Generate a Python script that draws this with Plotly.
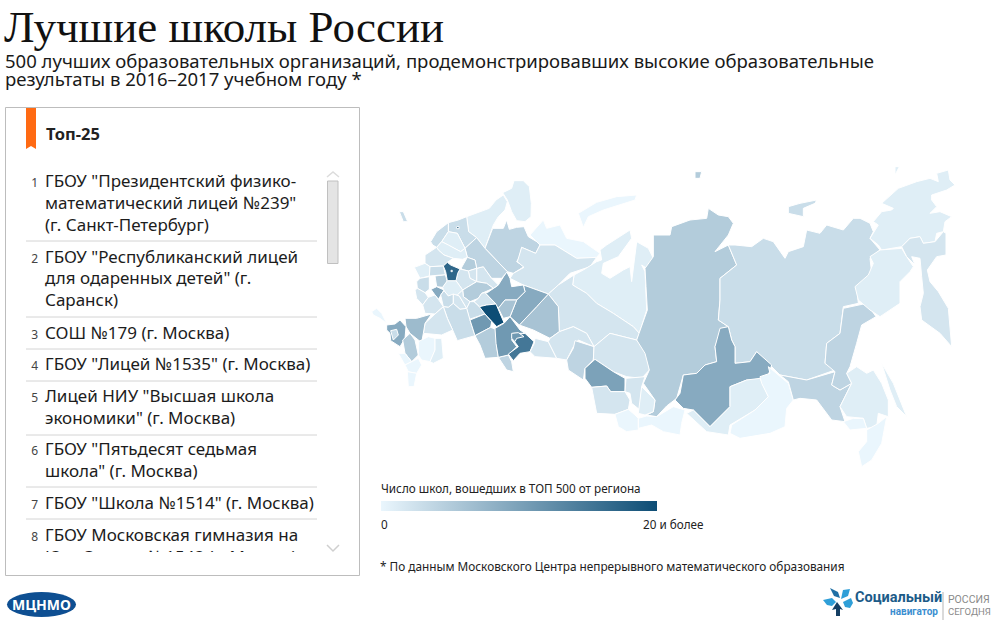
import plotly.graph_objects as go
from plotly.colors import sample_colorscale

COLOR_LOW = "#eaf6fd"
COLOR_HIGH = "#0d4d75"
MAX_SCHOOLS = 20

TITLE = "Лучшие школы России"
SUBTITLE = [
    "500 лучших образовательных организаций, продемонстрировавших высокие образовательные",
    "результаты в 2016–2017 учебном году *",
]
LEGEND_TITLE = "Число школ, вошедших в ТОП 500 от региона"
FOOTNOTE = "* По данным Московского Центра непрерывного математического образования"

LIST_NUMBERS = ["1", "2", "3", "4", "5", "6", "7", "8"]
LIST_LINES = [
    ['ГБОУ "Президентский физико-', 'математический лицей №239"', "(г. Санкт-Петербург)"],
    ['ГБОУ "Республиканский лицей', 'для одаренных детей" (г.', "Саранск)"],
    ["СОШ №179 (г. Москва)"],
    ['ГБОУ "Лицей №1535" (г. Москва)'],
    ['Лицей НИУ "Высшая школа', 'экономики" (г. Москва)'],
    ['ГБОУ "Пятьдесят седьмая', 'школа" (г. Москва)'],
    ['ГБОУ "Школа №1514" (г. Москва)'],
    ["ГБОУ Московская гимназия на", "Юго-Западе №1543 (г. Москва)"],
]
LIST_Y = [[183, 205, 227], [259, 280, 302], [335], [366], [398, 420], [451, 473], [505], [537, 559]]
LIST_RULES = [241, 317, 349, 381, 435, 487, 519]

# контуры снимались с увеличенных кусков картинки, у каждого куска свой сдвиг
FRAMES = {"W": (370, 170), "E": (640, 170), "F": (840, 150)}

REGION_NAMES = [
    "Мурманская обл.", "Карелия", "Ленинградская обл.", "Псковская обл.", "Новгородская обл.",
    "Калининградская обл.", "Архангельская обл.", "Ненецкий АО", "Новая Земля", "Коми",
    "Ямало-Ненецкий АО", "Ханты-Мансийский АО", "Свердловская обл.", "Пермский край", "Кировская обл.",
    "Удмуртия", "Костромская обл.", "Вологодская обл.", "Тверская обл.", "Смоленская обл.",
    "Ярославская обл.", "Ивановская обл.", "Владимирская обл.", "Нижегородская обл.", "Брянская обл.",
    "Калужская обл.", "Псковская зап.", "Курская обл.", "Тульская обл.", "Орловская обл.",
    "Белгородская обл.", "Липецкая обл.", "Тамбовская обл.", "Рязанская обл.", "Воронежская обл.",
    "Чувашия", "Пензенская обл.", "Саратовская обл.", "Волгоградская обл.", "Ростовская обл.",
    "Самарская обл.", "Татарстан", "Оренбургская обл. (запад)", "Оренбургская обл. (восток)", "Башкортостан",
    "Челябинская обл.", "Магнитогорск", "Курганская обл.", "Тюменская обл.", "Омская обл.",
    "Томская обл.", "Новосибирская обл.", "Кемеровская обл.", "Красноярский край", "Хакасия",
    "Алтайский край", "Республика Алтай", "Тува", "Северная Земля", "Якутия",
    "Новосибирские о-ва", "Иркутская обл.", "Бурятия", "Забайкальский край", "Амурская обл.",
    "Хабаровский край", "Приамурье", "Еврейская АО", "Приморский край", "Сахалин",
    "Чукотка", "о. Врангеля", "Магаданская обл.", "Камчатка", "Крым",
    "Краснодарский край", "Адыгея", "Ставрополье", "Калмыкия", "Астраханская обл.",
    "Северная Осетия", "Чечня", "Дагестан", "Московская обл.", "Москва",
    "Санкт-Петербург",
]
REGION_VALUES = [
    1, 1, 3, 3, 1,
    3, 4, 0, 0, 2,
    1, 2, 6, 9, 9,
    6, 2, 4, 1, 2,
    5, 2, 2, 5, 1,
    5, 3, 3, 1, 9,
    2, 3, 2, 2, 2,
    2, 3, 3, 2, 7,
    11, 20, 5, 4, 11,
    15, 11, 2, 2, 4,
    2, 10, 2, 5, 1,
    2, 0, 0, 5, 3,
    3, 9, 1, 0, 4,
    4, 1, 0, 0, 1,
    1, 1, 1, 2, 0,
    9, 3, 5, 0, 1,
    0, 0, 0, 17, 20,
    20,
]
REGION_OUTLINES = [
    ("W", [(398, 68), (425, 55), (432, 32), (460, 32), (478, 50), (484, 100), (483, 140), (465, 155), (440, 152), (425, 125), (412, 90)]),
    ("W", [(358, 115), (378, 90), (400, 75), (412, 95), (405, 120), (385, 140), (370, 165), (345, 235), (320, 203), (296, 185), (290, 140)]),
    ("W", [(235, 158), (265, 150), (290, 140), (296, 185), (320, 203), (285, 235), (262, 190), (235, 185)]),
    ("W", [(182, 215), (200, 185), (235, 158), (235, 185), (215, 215), (200, 232), (188, 225)]),
    ("W", [(215, 215), (235, 185), (262, 190), (285, 235), (272, 245), (235, 225)]),
    ("W", [(88, 125), (100, 125), (113, 155), (100, 155)]),
    ("W", [(345, 235), (368, 175), (400, 175), (410, 150), (418, 178), (440, 172), (462, 170), (475, 200), (500, 215), (510, 225), (497, 250), (455, 232), (448, 262), (440, 275), (462, 290), (430, 310), (412, 305), (380, 270)]),
    ("W", [(480, 195), (520, 150), (530, 175), (570, 165), (590, 205), (640, 215), (690, 250), (680, 262), (620, 265), (555, 225), (510, 225), (500, 215)]),
    ("W", [(625, 130), (680, 97), (740, 80), (800, 75), (795, 90), (700, 120), (655, 140), (640, 172)]),
    ("W", [(510, 225), (555, 225), (620, 265), (680, 262), (660, 290), (600, 310), (565, 345), (535, 372), (460, 345), (420, 325), (430, 310), (462, 292), (442, 275), (455, 232), (497, 250)]),
    ("W", [(612, 315), (640, 300), (680, 275), (695, 270), (690, 240), (710, 225), (780, 180), (785, 205), (745, 260), (700, 280), (695, 310), (720, 325), (760, 300), (780, 290), (785, 335), (800, 215), (835, 235), (850, 265), (830, 295), (815, 285), (825, 305), (830, 420), (808, 490), (790, 470), (730, 430), (680, 400), (650, 370), (608, 345)]),
    ("W", [(565, 345), (612, 315), (608, 345), (650, 370), (680, 400), (730, 430), (790, 470), (808, 490), (800, 510), (720, 490), (672, 530), (650, 490), (610, 470), (568, 485), (565, 410), (535, 372)]),
    ("W", [(535, 372), (565, 410), (568, 485), (540, 505), (490, 480), (448, 465), (500, 410)]),
    ("W", [(460, 345), (535, 372), (500, 410), (448, 465), (420, 440), (440, 390), (465, 365)]),
    ("W", [(352, 368), (370, 355), (385, 345), (410, 305), (420, 325), (425, 350), (460, 345), (465, 365), (440, 390), (405, 390), (385, 415), (370, 395), (345, 368)]),
    ("W", [(385, 415), (405, 390), (440, 390), (420, 440), (400, 445)]),
    ("W", [(320, 295), (340, 290), (365, 325), (385, 345), (370, 355), (350, 340), (320, 335)]),
    ("W", [(285, 235), (320, 203), (345, 235), (380, 270), (412, 305), (395, 325), (365, 325), (340, 290), (320, 295), (315, 270), (292, 262)]),
    ("W", [(200, 232), (215, 215), (235, 225), (272, 245), (285, 235), (292, 262), (278, 268), (250, 265), (222, 255), (205, 240)]),
    ("W", [(165, 255), (200, 232), (205, 240), (222, 255), (250, 265), (232, 277), (220, 288), (180, 290), (165, 280)]),
    ("W", [(275, 292), (292, 262), (315, 270), (320, 295), (295, 303), (275, 298)]),
    ("W", [(295, 303), (320, 295), (320, 335), (300, 325)]),
    ("W", [(270, 297), (295, 303), (300, 325), (320, 335), (278, 360), (258, 332), (263, 310)]),
    ("W", [(278, 360), (320, 335), (350, 340), (370, 355), (335, 370), (325, 385), (300, 395), (280, 380)]),
    ("W", [(133, 292), (165, 280), (180, 290), (178, 318), (150, 325)]),
    ("W", [(195, 318), (226, 314), (232, 335), (218, 352), (200, 350)]),
    ("W", [(180, 290), (220, 288), (226, 314), (195, 318), (178, 318)]),
    ("W", [(140, 335), (150, 325), (178, 320), (178, 358), (165, 368), (142, 355)]),
    ("W", [(218, 352), (232, 332), (258, 332), (278, 360), (262, 375), (235, 378), (222, 362)]),
    ("W", [(183, 358), (200, 350), (222, 360), (212, 375), (205, 388), (195, 375)]),
    ("W", [(135, 360), (142, 355), (165, 368), (175, 382), (158, 405), (140, 385)]),
    ("W", [(212, 375), (222, 362), (235, 378), (250, 372), (250, 400), (235, 412), (220, 410)]),
    ("W", [(250, 372), (268, 378), (290, 415), (270, 418), (250, 400)]),
    ("W", [(262, 375), (278, 360), (280, 380), (300, 395), (290, 415), (268, 378)]),
    ("W", [(175, 382), (195, 375), (205, 388), (220, 410), (195, 432), (165, 430), (158, 405)]),
    ("W", [(325, 385), (335, 370), (345, 368), (370, 395), (378, 402), (350, 405), (328, 410), (312, 395)]),
    ("W", [(290, 415), (300, 395), (312, 395), (328, 410), (345, 432), (320, 440), (298, 448)]),
    ("W", [(220, 410), (235, 412), (250, 400), (270, 418), (290, 415), (298, 448), (300, 450), (315, 497), (262, 512), (248, 480), (232, 445)]),
    ("W", [(195, 432), (220, 410), (232, 445), (248, 480), (215, 495), (160, 490), (165, 460)]),
    ("W", [(105, 445), (140, 445), (185, 432), (165, 460), (160, 490), (155, 518), (120, 490), (108, 470)]),
    ("W", [(300, 450), (345, 432), (365, 455), (362, 472), (315, 497)]),
    ("W", [(328, 410), (350, 405), (378, 402), (395, 440), (402, 458), (380, 470), (365, 455), (345, 432)]),
    ("W", [(315, 497), (362, 472), (378, 478), (380, 530), (385, 562), (345, 565), (330, 525)]),
    ("W", [(385, 562), (415, 555), (425, 575), (430, 605), (410, 600), (395, 575)]),
    ("W", [(375, 475), (402, 460), (420, 440), (450, 480), (465, 490), (430, 490), (425, 510), (440, 530), (415, 555), (385, 562), (378, 520)]),
    ("W", [(430, 495), (465, 490), (492, 515), (480, 545), (450, 550), (430, 572), (415, 552), (445, 530), (430, 510)]),
    ("W", [(425, 490), (445, 488), (462, 500), (440, 505), (435, 515), (425, 505)]),
    ("W", [(495, 505), (535, 515), (560, 565), (495, 560), (480, 545), (493, 520)]),
    ("W", [(535, 515), (540, 505), (568, 485), (610, 470), (650, 490), (672, 530), (625, 510), (610, 530), (590, 570), (560, 565)]),
    ("W", [(615, 512), (672, 530), (670, 570), (645, 595), (640, 630), (595, 600), (590, 570), (610, 535)]),
    ("W", [(672, 530), (720, 490), (800, 510), (830, 545), (838, 600), (815, 625), (770, 620), (730, 605), (675, 568), (670, 570)]),
    ("W", [(675, 568), (730, 605), (765, 625), (765, 665), (722, 665), (710, 648), (665, 652), (645, 625), (645, 595)]),
    ("W", [(768, 625), (825, 620), (815, 650), (810, 720), (785, 700), (780, 670), (765, 665)]),
    ("E", [(40, 195), (90, 195), (95, 170), (150, 150), (200, 145), (205, 115), (235, 135), (265, 140), (280, 160), (265, 195), (225, 245), (265, 225), (290, 285), (240, 325), (240, 390), (235, 450), (265, 470), (245, 475), (225, 530), (230, 575), (195, 585), (170, 610), (130, 615), (110, 685), (80, 708), (50, 740), (20, 735), (40, 725), (45, 690), (10, 640), (28, 600), (15, 550), (-10, 510), (5, 470), (22, 420), (18, 350), (15, 295), (40, 260)]),
    ("W", [(815, 650), (855, 690), (850, 725), (825, 735), (805, 730), (810, 690)]),
    ("W", [(665, 652), (710, 648), (722, 665), (765, 665), (780, 690), (775, 718), (735, 733), (680, 730)]),
    ("W", [(735, 733), (775, 718), (795, 735), (805, 745), (805, 780), (770, 785), (745, 770)]),
    ("E", [(-5, 745), (20, 738), (50, 740), (100, 710), (135, 720), (125, 760), (120, 795), (70, 785), (35, 765), (-5, 775)]),
    ("E", [(165, 5), (185, 5), (180, 25), (165, 25)]),
    ("E", [(265, 225), (285, 225), (335, 230), (370, 205), (400, 215), (435, 265), (445, 245), (490, 230), (500, 180), (540, 190), (560, 165), (610, 180), (640, 145), (660, 145), (690, 160), (700, 185), (690, 205), (720, 240), (690, 265), (695, 310), (650, 350), (655, 400), (610, 410), (600, 490), (560, 520), (555, 580), (585, 600), (500, 630), (420, 615), (395, 590), (350, 545), (330, 575), (285, 580), (285, 530), (275, 510), (265, 470), (235, 450), (240, 390), (240, 325), (290, 285)]),
    ("E", [(445, 110), (480, 100), (530, 90), (525, 100), (490, 115), (490, 140), (445, 130)]),
    ("E", [(240, 475), (265, 470), (275, 510), (285, 530), (285, 580), (330, 575), (350, 545), (395, 585), (380, 630), (320, 630), (270, 650), (270, 710), (210, 770), (160, 720), (130, 715), (105, 690), (120, 670), (130, 615), (170, 610), (195, 585), (230, 575), (225, 530)]),
    ("E", [(270, 650), (320, 630), (360, 625), (375, 660), (385, 680), (345, 720), (270, 765), (265, 795), (200, 785), (140, 730), (160, 720), (210, 770), (270, 710)]),
    ("E", [(385, 590), (420, 620), (445, 640), (460, 690), (440, 715), (435, 770), (390, 790), (300, 805), (270, 790), (275, 765), (345, 720), (385, 680), (365, 640), (360, 620), (390, 610)]),
    ("E", [(420, 615), (500, 630), (585, 605), (575, 645), (600, 660), (635, 640), (600, 710), (615, 755), (575, 750), (530, 690), (480, 685), (460, 690), (445, 635)]),
    ("E", [(610, 415), (655, 405), (680, 400), (708, 440), (665, 465), (650, 520), (630, 590), (620, 610), (635, 640), (600, 660), (575, 645), (585, 605), (555, 580), (560, 520), (600, 490)]),
    ("E", [(635, 640), (620, 610), (650, 590), (680, 610), (700, 600), (725, 640), (745, 690), (745, 740), (715, 730), (710, 770), (680, 775), (670, 745), (620, 740), (600, 710)]),
    ("E", [(610, 755), (640, 745), (670, 745), (680, 775), (630, 780)]),
    ("E", [(680, 780), (715, 760), (740, 740), (725, 820), (695, 870), (665, 890), (655, 845), (680, 815)]),
    ("E", [(725, 580), (760, 640), (800, 740), (770, 710), (750, 660)]),
    ("F", [(100, 215), (125, 185), (155, 180), (160, 175), (125, 160), (175, 115), (230, 95), (270, 85), (295, 95), (290, 70), (325, 60), (330, 90), (345, 105), (320, 120), (275, 135), (275, 150), (290, 170), (270, 190), (300, 185), (335, 200), (315, 215), (310, 245), (290, 250), (285, 275), (250, 280), (240, 260), (210, 265), (185, 290), (125, 300), (115, 285), (90, 265), (115, 225)]),
    ("F", [(165, 50), (178, 50), (165, 75)]),
    ("F", [(120, 300), (185, 295), (200, 320), (220, 350), (210, 365), (180, 395), (180, 460), (150, 480), (120, 500), (90, 480), (55, 450), (45, 410), (85, 375), (100, 340), (90, 320)]),
    ("F", [(185, 290), (210, 265), (240, 260), (250, 280), (285, 275), (310, 245), (318, 250), (318, 315), (290, 320), (262, 360), (270, 395), (295, 425), (325, 475), (330, 530), (335, 590), (300, 550), (245, 510), (240, 470), (250, 430), (245, 380), (240, 325), (215, 320), (225, 345), (200, 320)]),
    ("W", [(5, 425), (20, 415), (35, 430), (50, 460), (30, 445), (10, 435)]),
    ("W", [(50, 465), (75, 462), (90, 450), (108, 470), (105, 505), (90, 530), (62, 512), (60, 490), (50, 480)]),
    ("W", [(62, 482), (80, 478), (85, 495), (70, 510)]),
    ("W", [(98, 510), (120, 490), (135, 510), (145, 555), (125, 575), (105, 550)]),
    ("W", [(145, 515), (175, 500), (195, 505), (195, 540), (180, 575), (155, 570), (145, 555)]),
    ("W", [(195, 505), (215, 505), (218, 540), (220, 565), (190, 580), (180, 575), (195, 540)]),
    ("W", [(85, 550), (105, 550), (125, 575), (105, 585)]),
    ("W", [(105, 585), (125, 575), (145, 565), (155, 585), (140, 610), (115, 605)]),
    ("W", [(112, 605), (140, 610), (132, 650), (115, 650)]),
    ("W", [(220, 288), (232, 277), (242, 285), (270, 297), (263, 310), (258, 332), (232, 332), (227, 305)]),
    ("W", [(243, 301), (247, 301), (247, 305), (243, 305)]),
    ("W", [(260, 170), (267, 170), (267, 176), (260, 176)]),
]


def to_page(frame, points):
    dx, dy = FRAMES[frame]
    return [dx + x / 3 for x, y in points], [dy + y / 3 for x, y in points]


scale = [[0, COLOR_LOW], [1, COLOR_HIGH]]
fig = go.Figure()

center_x, center_y = [], []
for name, value, outline in zip(REGION_NAMES, REGION_VALUES, REGION_OUTLINES):
    xs, ys = to_page(*outline)
    color = sample_colorscale(scale, value / MAX_SCHOOLS)[0]
    fig.add_trace(go.Scatter(
        x=xs + xs[:1], y=ys + ys[:1], mode="lines", fill="toself", fillcolor=color,
        line=dict(color="white", width=1), name=name, showlegend=False,
        hoverinfo="text", hoveron="fills", text=f"{name}: {value}",
    ))
    center_x.append(sum(xs) / len(xs))
    center_y.append(sum(ys) / len(ys))

# цветовая шкала под картой
fig.add_trace(go.Scatter(
    x=center_x, y=center_y, mode="markers", showlegend=False, hoverinfo="skip",
    marker=dict(
        size=1, opacity=0, color=REGION_VALUES, cmin=0, cmax=MAX_SCHOOLS,
        colorscale=scale,
        colorbar=dict(
            orientation="h", x=381 / 998, xanchor="left", y=1 - 511 / 624, yanchor="bottom",
            lenmode="pixels", len=276, thickness=10, xpad=0, ypad=0,
            outlinewidth=0, ticks="", showticklabels=False,
        ),
    ),
))

fig.add_trace(go.Scatter(
    x=[45 for row in LIST_LINES for line in row],
    y=[y for row in LIST_Y for y in row],
    text=[line for row in LIST_LINES for line in row],
    mode="text", textposition="middle right",
    textfont=dict(family="Noto Sans", size=17, color="#1c1c1c"),
    showlegend=False, hoverinfo="skip",
))
fig.add_trace(go.Scatter(
    x=[38] * len(LIST_NUMBERS), y=[row[0] + 1 for row in LIST_Y], text=LIST_NUMBERS,
    mode="text", textposition="middle left",
    textfont=dict(family="Noto Sans", size=12, color="#444"),
    showlegend=False, hoverinfo="skip",
))

shapes = [
    # белая полоса обрезает восьмую строку списка, как в скролле
    dict(type="rect", x0=26, x1=325, y0=552, y1=573, fillcolor="white", line_width=0, layer="above"),
    dict(type="rect", x0=5.5, x1=359.5, y0=107.5, y1=575.5, line=dict(color="#bdbdbd", width=1), layer="above"),
    dict(type="path", path="M26,108 L36,108 L36,149 L31,146 L26,149 Z", fillcolor="#ff6a13", line_width=0),
    dict(type="rect", x0=327.5, x1=338, y0=181, y1=263.5, fillcolor="#e4e4e4", line=dict(color="#c0c0c0", width=1)),
    dict(type="path", path="M327,177 L333,172 L339,177", line=dict(color="#dcdcdc", width=1.5)),
    dict(type="path", path="M327,545 L333,551 L339,545", line=dict(color="#cfcfcf", width=1.5), layer="above"),
    dict(type="circle", x0=7, x1=76, y0=592, y1=617, fillcolor="#0e4f92", line_width=0),
    dict(type="line", x0=943, x1=943, y0=592, y1=620, line=dict(color="#b5b5b5", width=1)),
    dict(type="path", path="M830,588 L838,592 L840,598 L834,596 Z", fillcolor="#1f6fa5", line_width=0),
    dict(type="path", path="M843,590 L850,589 L848,596 L841,599 Z", fillcolor="#2f9fd8", line_width=0),
    dict(type="path", path="M843,602 L851,598 L853,603 L850,608 L845,607 Z", fillcolor="#2f9fd8", line_width=0),
    dict(type="path", path="M823,600 L832,598 L836,602 L832,606 L827,605 Z", fillcolor="#2f9fd8", line_width=0),
    dict(type="path", path="M837,602 L843,610 L840,609 L840,616 L836,616 L836,609 L832,610 Z", fillcolor="#153f63", line_width=0),
]
for y in LIST_RULES:
    shapes.append(dict(type="line", x0=26, x1=317, y0=y, y1=y, line=dict(color="#d4d4d4", width=1)))


def label(x, y, text, family="Noto Sans", size=12, color="#222", anchor="left"):
    # у подписей plotly есть отступ около 2 px
    shift = {"left": -2, "center": 0, "right": 2}[anchor]
    return dict(x=x, y=y, text=text, showarrow=False, xanchor=anchor, yanchor="middle", xref="x", yref="y",
                xshift=shift, font=dict(family=family, size=size, color=color))


annotations = [
    label(4, 27, TITLE, family="Liberation Serif", size=45, color="#111"),
    label(5, 60, SUBTITLE[0], size=18.55, color="#1a1a1a"),
    label(5, 78, SUBTITLE[1], size=18.55, color="#1a1a1a"),
    label(46, 133, "<b>Топ-25</b>", size=16.5, color="#222"),
    label(381, 488, LEGEND_TITLE, size=11.7),
    label(381, 524, "0", size=11.7),
    label(643, 524, "20 и более", size=11.7),
    label(380, 566, FOOTNOTE, size=11.8),
    label(41.5, 604.5, "<b>МЦНМО</b>", size=14, color="white", anchor="center"),
    label(855, 597, "<b>Социальный</b>", family="Roboto", size=14.5, color="#1c5b88"),
    label(938, 611, "<b>навигатор</b>", family="Roboto", size=10, color="#3b8ed0", anchor="right"),
    label(948, 599, "РОССИЯ", family="Roboto", size=10.5, color="#8a8a8a"),
    label(948, 611, "СЕГОДНЯ", family="Roboto", size=9.5, color="#8a8a8a"),
]

fig.update_layout(
    width=998, height=624, margin=dict(l=0, r=0, t=0, b=0),
    paper_bgcolor="white", plot_bgcolor="white",
    xaxis=dict(range=[0, 998], visible=False, fixedrange=True),
    yaxis=dict(range=[624, 0], visible=False, fixedrange=True),
    shapes=shapes, annotations=annotations, showlegend=False,
)

fig.write_html("out.html", config=dict(displayModeBar=False),
               post_script="document.body.style.margin='0';")
